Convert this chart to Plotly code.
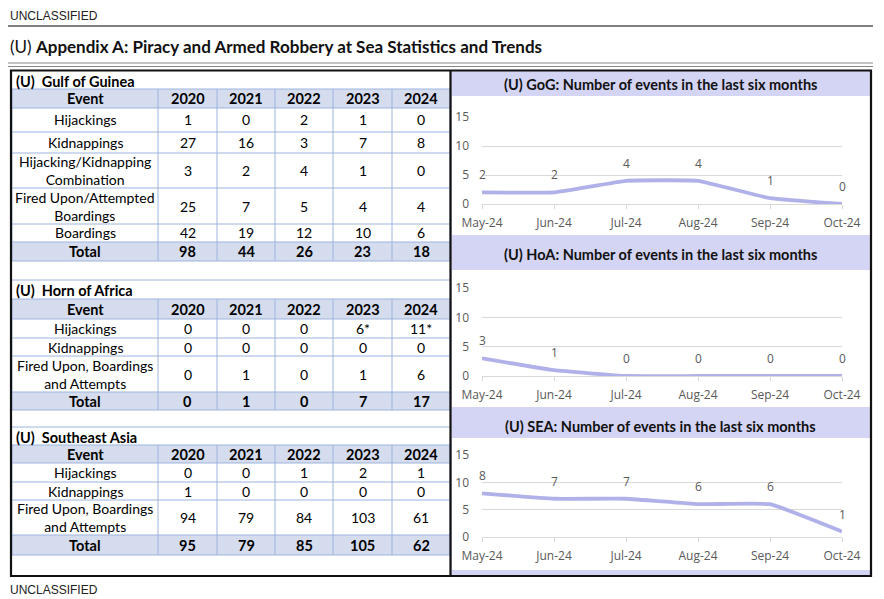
import plotly.graph_objects as go

# The page body adds an 8px margin, so the figure is sized to fit the window.
OFF = 8
W, H = 884 - OFF, 599 - OFF

def px(x):
    return (x - OFF) / W

def py(y):
    return 1 - (y - OFF) / H

years = ["2020", "2021", "2022", "2023", "2024"]

gog_events = ["Hijackings", "Kidnappings", "Hijacking/Kidnapping<br>Combination",
              "Fired Upon/Attempted<br>Boardings", "Boardings", "Total"]
gog_2020 = ["1", "27", "3", "25", "42", "98"]
gog_2021 = ["0", "16", "2", "7", "19", "44"]
gog_2022 = ["2", "3", "4", "5", "12", "26"]
gog_2023 = ["1", "7", "1", "4", "10", "23"]
gog_2024 = ["0", "8", "0", "4", "6", "18"]

hoa_events = ["Hijackings", "Kidnappings", "Fired Upon, Boardings<br>and Attempts", "Total"]
hoa_2020 = ["0", "0", "0", "0"]
hoa_2021 = ["0", "0", "1", "1"]
hoa_2022 = ["0", "0", "0", "0"]
hoa_2023 = ["6*", "0", "1", "7"]
hoa_2024 = ["11*", "0", "6", "17"]

sea_events = ["Hijackings", "Kidnappings", "Fired Upon, Boardings<br>and Attempts", "Total"]
sea_2020 = ["0", "1", "94", "95"]
sea_2021 = ["0", "0", "79", "79"]
sea_2022 = ["1", "0", "84", "85"]
sea_2023 = ["2", "0", "103", "105"]
sea_2024 = ["1", "0", "61", "62"]

months = ["May-24", "Jun-24", "Jul-24", "Aug-24", "Sep-24", "Oct-24"]
gog_monthly = [2, 2, 4, 4, 1, 0]
hoa_monthly = [3, 1, 0, 0, 0, 0]
sea_monthly = [8, 7, 7, 6, 6, 1]

HDR = "#d5dcee"
GRID = "#9db4de"
LAV = "#d4d4f4"
LINE = "#b1b1e9"
TXT = "#595959"
TFONT = "Lato"

fig = go.Figure()
shapes = []
annotations = []

COL_EDGES = [12, 158, 217, 275, 333, 392, 450]


def add_table(title, title_y, events, cols, row_edges):
    """row_edges: pixel y edges, first = header top, then header bottom, then each row bottom."""
    n = len(events)
    annotations.append(dict(text="<b>%s</b>" % title, x=px(14), y=py(title_y), xref="paper", yref="paper",
                            xanchor="left", yanchor="middle", showarrow=False,
                            font=dict(family=TFONT, size=14.5, color="black")))
    for (a, b) in [(row_edges[0], row_edges[1]), (row_edges[-2], row_edges[-1])]:
        shapes.append(dict(type="rect", xref="paper", yref="paper", x0=px(COL_EDGES[0]), x1=px(COL_EDGES[-1]),
                           y0=py(b), y1=py(a), fillcolor=HDR, line=dict(width=0), layer="below"))
    for yy in row_edges:
        shapes.append(dict(type="line", xref="paper", yref="paper", x0=px(COL_EDGES[0]), x1=px(COL_EDGES[-1]),
                           y0=py(yy), y1=py(yy), line=dict(color=GRID, width=1)))
    for xx in COL_EDGES:
        shapes.append(dict(type="line", xref="paper", yref="paper", x0=px(xx), x1=px(xx),
                           y0=py(row_edges[-1]), y1=py(row_edges[0]), line=dict(color=GRID, width=1)))
    centers = [(COL_EDGES[i] + COL_EDGES[i + 1]) / 2 for i in range(6)]
    header = ["Event"] + years
    hy = (row_edges[0] + row_edges[1]) / 2
    for cx, t in zip(centers, header):
        annotations.append(dict(text="<b>%s</b>" % t, x=px(cx), y=py(hy), xref="paper", yref="paper",
                                xanchor="center", yanchor="middle", showarrow=False,
                                font=dict(family=TFONT, size=14.5, color="black")))
    columns = [events] + cols
    for r in range(n):
        ry = (row_edges[r + 1] + row_edges[r + 2]) / 2
        bold = (r == n - 1)
        for cx, col in zip(centers, columns):
            t = col[r]
            annotations.append(dict(text=("<b>%s</b>" % t) if bold else t, x=px(cx), y=py(ry),
                                    xref="paper", yref="paper", xanchor="center", yanchor="middle",
                                    showarrow=False,
                                    font=dict(family=TFONT, size=14.5 if bold else 14, color="black")))


add_table("(U)  Gulf of Guinea", 81, gog_events, [gog_2020, gog_2021, gog_2022, gog_2023, gog_2024],
          [89, 108, 132, 153, 188, 224, 242, 261])
add_table("(U)  Horn of Africa", 290, hoa_events, [hoa_2020, hoa_2021, hoa_2022, hoa_2023, hoa_2024],
          [299, 319, 338, 356, 392, 410])
add_table("(U)  Southeast Asia", 437, sea_events, [sea_2020, sea_2021, sea_2022, sea_2023, sea_2024],
          [445, 463, 482, 500, 535, 555])

# right panel backgrounds
shapes.append(dict(type="rect", xref="paper", yref="paper", x0=px(451), x1=px(871),
                   y0=py(576), y1=py(71), fillcolor=LAV, line=dict(width=0), layer="below"))
for (a, b) in [(96, 235), (270, 407), (438, 570)]:
    shapes.append(dict(type="rect", xref="paper", yref="paper", x0=px(452), x1=px(870),
                       y0=py(b), y1=py(a), fillcolor="white", line=dict(width=0), layer="below"))
for yy in [280, 427]:
    shapes.append(dict(type="line", xref="paper", yref="paper", x0=px(12), x1=px(450),
                       y0=py(yy), y1=py(yy), line=dict(color=GRID, width=1)))
shapes.append(dict(type="line", xref="paper", yref="paper", x0=px(8), x1=px(873),
                   y0=py(26), y1=py(26), line=dict(color="#555555", width=1.5)))
shapes.append(dict(type="line", xref="paper", yref="paper", x0=px(8), x1=px(873),
                   y0=py(63), y1=py(63), line=dict(color="#888888", width=1)))
shapes.append(dict(type="line", xref="paper", yref="paper", x0=px(8), x1=px(873),
                   y0=py(66.5), y1=py(66.5), line=dict(color="#888888", width=1)))
shapes.append(dict(type="rect", xref="paper", yref="paper", x0=px(11), x1=px(871),
                   y0=py(576), y1=py(70.5), line=dict(color="#111111", width=2.2)))
shapes.append(dict(type="line", xref="paper", yref="paper", x0=px(450.5), x1=px(450.5),
                   y0=py(576), y1=py(70.5), line=dict(color="#111111", width=2.2)))

annotations.append(dict(text="UNCLASSIFIED", x=px(8), y=py(16), xref="paper", yref="paper",
                        xanchor="left", yanchor="middle", showarrow=False,
                        font=dict(family="Liberation Sans Narrow, Liberation Sans", size=12, color="#222222")))
annotations.append(dict(text="UNCLASSIFIED", x=px(8), y=py(590), xref="paper", yref="paper",
                        xanchor="left", yanchor="middle", showarrow=False,
                        font=dict(family="Liberation Sans Narrow, Liberation Sans", size=12, color="#222222")))
annotations.append(dict(text="(U) <b>Appendix A: Piracy and Armed Robbery at Sea Statistics and Trends</b>",
                        x=px(8), y=py(46), xref="paper", yref="paper",
                        xanchor="left", yanchor="middle", showarrow=False,
                        font=dict(family=TFONT, size=17, color="#111111")))

charts = [
    ("(U) GoG: Number of events in the last six months", gog_monthly, 84, 204, 117),
    ("(U) HoA: Number of events in the last six months", hoa_monthly, 254, 376, 288),
    ("(U) SEA: Number of events in the last six months", sea_monthly, 426, 537, 455),
]

for i, (title, vals, ty, y0, y15) in enumerate(charts):
    xa = "x" if i == 0 else "x%d" % (i + 1)
    ya = "y" if i == 0 else "y%d" % (i + 1)
    fig.add_trace(go.Scatter(x=months, y=vals, mode="lines", xaxis=xa, yaxis=ya,
                             line=dict(color=LINE, width=3.8, shape="spline", smoothing=0.3),
                             hoverinfo="x+y", showlegend=False))
    for m, v in zip(months, vals):
        annotations.append(dict(text=str(v), x=m, y=v, xref=xa, yref=ya, showarrow=False,
                                yanchor="bottom", yshift=7,
                                font=dict(family="Open Sans", size=12, color=TXT)))
    annotations.append(dict(text="<b>%s</b>" % title, x=px(660), y=py(ty), xref="paper", yref="paper",
                            xanchor="center", yanchor="middle", showarrow=False,
                            font=dict(family=TFONT, size=14.5, color="#111111")))
    axkey = "xaxis" if i == 0 else "xaxis%d" % (i + 1)
    aykey = "yaxis" if i == 0 else "yaxis%d" % (i + 1)
    fig.update_layout(**{
        axkey: dict(domain=[px(482), px(842)], anchor=ya, type="category", range=[0, 5],
                    showgrid=False, showline=True, linecolor="#d9d9d9", linewidth=1,
                    ticks="outside", ticklen=4, tickcolor="#d9d9d9", automargin=False,
                    ticklabelstandoff=4,
                    tickfont=dict(family="Open Sans", size=12, color=TXT), zeroline=False,
                    fixedrange=True),
        aykey: dict(domain=[py(y0), py(y15)], anchor=xa, range=[0, 15], tickvals=[0, 5, 10, 15],
                    showgrid=True, gridcolor="#d9d9d9", gridwidth=1, zeroline=False,
                    showline=False, ticks="", ticklabelstandoff=12, automargin=False,
                    tickfont=dict(family="Open Sans", size=12, color=TXT), fixedrange=True),
    })

fig.update_layout(width=W, height=H, margin=dict(l=0, r=0, t=0, b=0, autoexpand=False),
                  paper_bgcolor="white", plot_bgcolor="rgba(0,0,0,0)",
                  shapes=shapes, annotations=annotations, showlegend=False)

fig.write_html("out.html")
